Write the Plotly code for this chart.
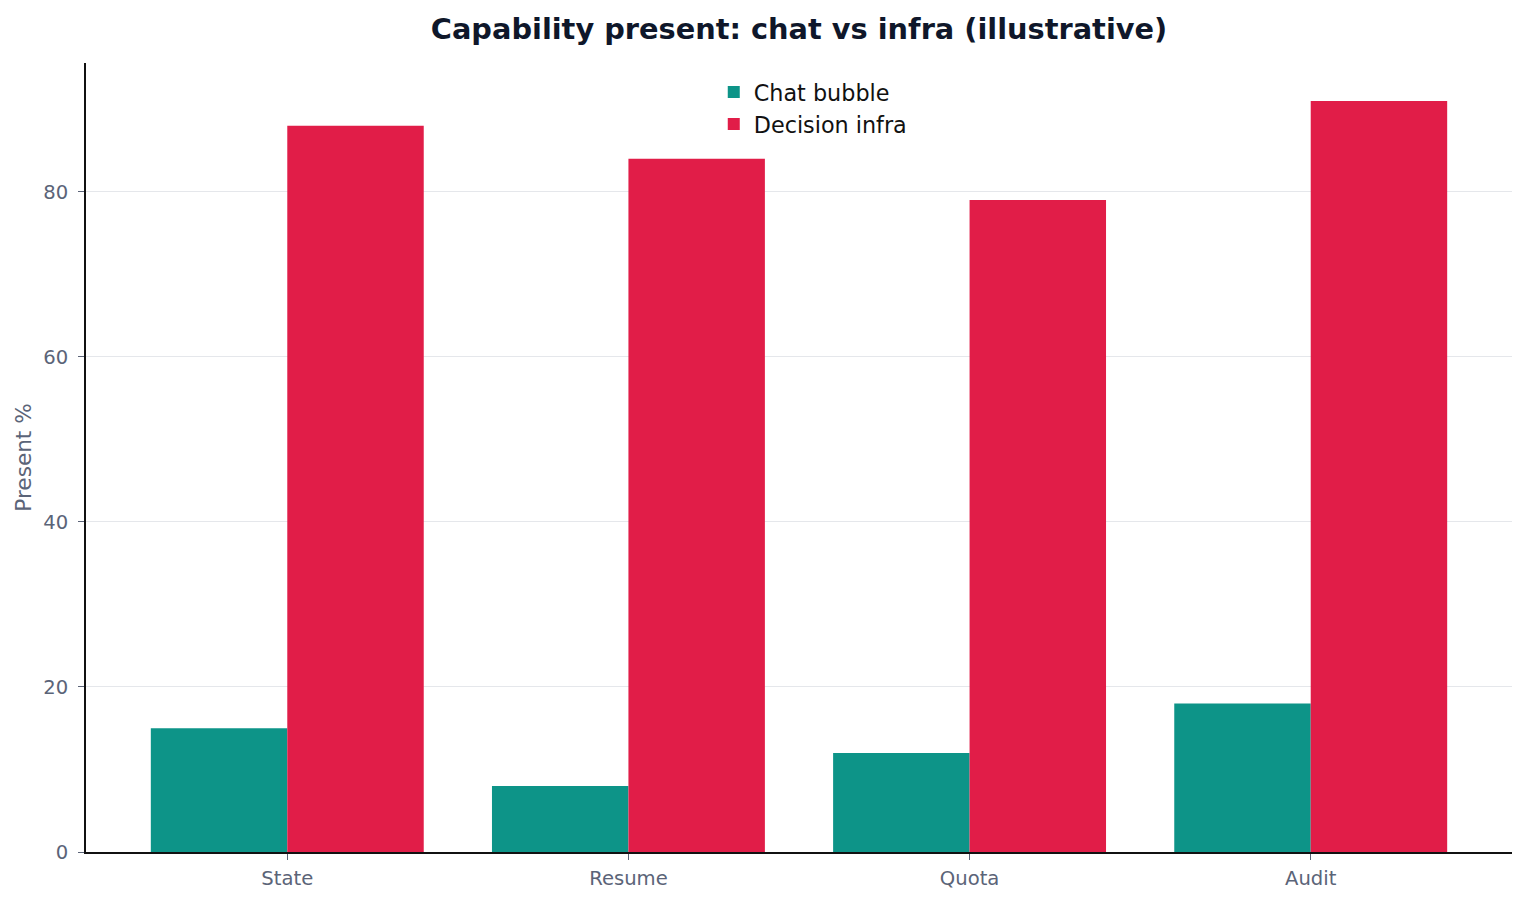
import plotly.graph_objects as go

categories = ["State", "Resume", "Quota", "Audit"]
chat_bubble = [15, 8, 12, 18]
decision_infra = [88, 84, 79, 91]
y_ticks = [0, 20, 40, 60, 80]

TEAL = "#0d9488"
ROSE = "#e11d48"
MUTED = "#5b6478"
FONT = "DejaVu Sans"

fig = go.Figure()
fig.add_trace(go.Bar(x=categories, y=chat_bubble, name="Chat bubble",
                     marker=dict(color=TEAL, line=dict(width=0))))
fig.add_trace(go.Bar(x=categories, y=decision_infra, name="Decision infra",
                     marker=dict(color=ROSE, line=dict(width=0))))

# page body has an 8px margin, so the figure is sized/offset for that
fig.update_layout(
    width=1512,
    height=887,
    barmode="group",
    bargap=0.2,
    bargroupgap=0,
    plot_bgcolor="white",
    paper_bgcolor="white",
    font=dict(family=FONT, color=MUTED),
    margin=dict(l=78, r=8, t=55, b=43),
    title=dict(
        text="Capability present: chat vs infra (illustrative)",
        font=dict(family=FONT, size=28.8, color="#0f172a", weight="bold"),
        x=0.5, xref="paper", xanchor="center",
        y=1 - 21 / 887, yref="container", yanchor="middle",
    ),
    legend=dict(
        x=0.51, xanchor="center", y=0.99, yanchor="top",
        font=dict(family=FONT, size=22.3, color="#111111"),
        bgcolor="rgba(0,0,0,0)",
    ),
    xaxis=dict(
        range=[-0.59, 3.59],
        automargin=False,
        showgrid=False,
        showline=True, linecolor="#111111", linewidth=1.6,
        ticks="outside", ticklen=6, tickwidth=1.3, tickcolor=MUTED,
        ticklabelstandoff=2,
        tickfont=dict(family=FONT, size=19.6, color=MUTED),
    ),
    yaxis=dict(
        range=[0, 95.6],
        tickvals=y_ticks,
        showgrid=True, gridcolor="#e5e7eb", gridwidth=1.2,
        zeroline=False,
        showline=True, linecolor="#111111", linewidth=1.6,
        ticks="outside", ticklen=6, tickwidth=1.3, tickcolor=MUTED,
        ticklabelstandoff=6,
        tickfont=dict(family=FONT, size=19.6, color=MUTED),
        title=dict(text="Present %", font=dict(family=FONT, size=21.6, color=MUTED), standoff=6),
    ),
)

fig.write_html("out.html")
